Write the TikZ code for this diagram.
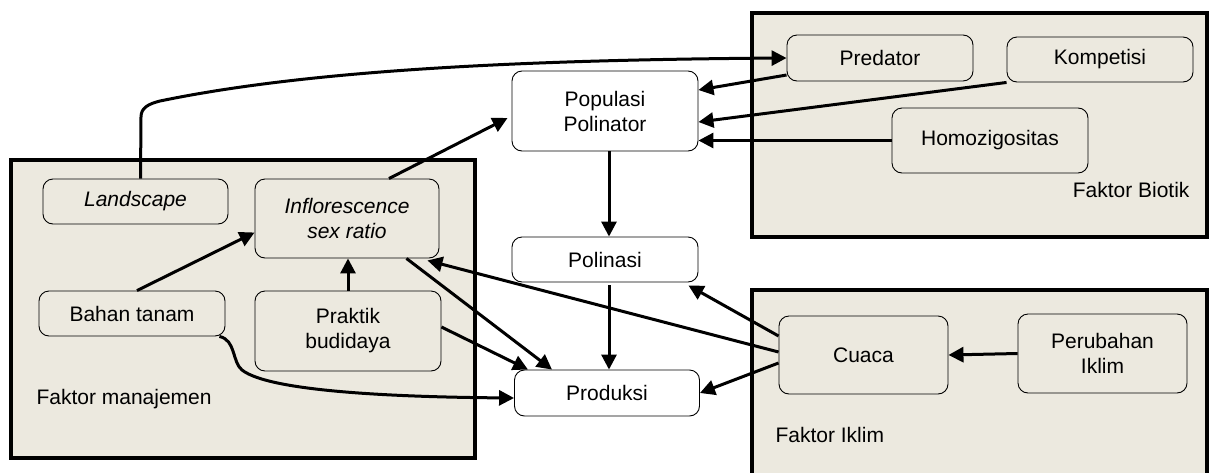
\documentclass[tikz,border=0pt]{standalone}
\usepackage{fontspec}
\setmainfont{Liberation Sans}
\usetikzlibrary{arrows.meta}
\definecolor{beige}{RGB}{236,233,223}

\begin{document}
\begin{tikzpicture}[x=1pt,y=-1pt,
    font=\fontsize{21}{25}\selectfont,
    panel/.style={draw,line width=4.5pt,fill=beige},
    box/.style={draw,line width=0.9pt,rounded corners=10pt,fill=beige,align=center,inner sep=0pt},
    wbox/.style={box,fill=white},
    arr/.style={line width=3pt,-{Triangle[length=15pt,width=15pt]}}]
        \clip (0,0) rectangle (1211,472);

        % groups
        \draw[panel] (11,160) rectangle (475,458);
        \draw[panel] (752,13) rectangle (1207,237);
        \draw[panel] (752,290) rectangle (1207,476);

        \node[anchor=west] (tman) at (33,399) {Faktor manajemen};
        \node[anchor=east] (tbio) at (1193,190) {Faktor Biotik};
        \node[anchor=west] (tikl) at (772,435) {Faktor Iklim};

        % faktor manajemen
        \node[box,minimum width=185pt,minimum height=45pt] (land) at (135.5,201.5) {\itshape Landscape};
        \node[box,minimum width=184pt,minimum height=79pt] (infl) at (347,218.5) {\itshape Inflorescence\\\itshape sex ratio};
        \node[box,minimum width=186pt,minimum height=45pt] (bahan) at (132,313.5) {Bahan tanam};
        \node[box,minimum width=186pt,minimum height=80pt] (prak) at (348,331) {Praktik\\budidaya};

        % tengah
        \node[wbox,minimum width=186pt,minimum height=80pt] (pop) at (605,111) {Populasi\\Polinator};
        \node[wbox,minimum width=186pt,minimum height=45pt] (pol) at (605,259.5) {Polinasi};
        \node[wbox,minimum width=185pt,minimum height=46pt] (prod) at (607,393) {Produksi};

        % faktor biotik
        \node[box,minimum width=186pt,minimum height=46pt] (pred) at (880,58) {Predator};
        \node[box,minimum width=186pt,minimum height=45pt] (komp) at (1100,59.5) {Kompetisi};
        \node[box,minimum width=196pt,minimum height=65pt] (homo) at (990,140.5) {Homozigositas};

        % faktor iklim
        \node[box,minimum width=169pt,minimum height=78pt] (cuaca) at (863.5,355) {Cuaca};
        \node[box,minimum width=169pt,minimum height=79pt] (perub) at (1102.5,353.5) {Perubahan\\Iklim};

        \draw[arr] ([xshift=5pt]land.north) -- (141,117) .. controls (141,108) and (148,104) .. (160,101) .. controls (300,72) and (500,60) .. (pred.west);
        \draw[arr] ([yshift=-17pt]pred.west) -- ([yshift=21pt]pop.east);
        \draw[arr] (komp.south west) -- ([yshift=-11pt]pop.east);
        \draw[arr] (homo.west) -- (homo.west -| pop.east);

        \draw[arr] ([xshift=42pt]infl.north) -- ([xshift=-4pt,yshift=-7pt]pop.west);
        \draw[arr] ([xshift=5pt]bahan.north) -- ([yshift=-14pt]infl.west);
        \draw[arr] (prak.north) -- (prak.north |- infl.south);
        \draw[arr] ([xshift=-33pt]infl.south east) -- ([xshift=-55pt]prod.north);
        \draw[arr] ([yshift=4pt]prak.east) -- ([xshift=-79pt]prod.north);
        \draw[arr] ([xshift=-6pt]bahan.south east) .. controls (236,340) and (232,362) .. (242,370) .. controls (270,392) and (400,397) .. ([yshift=-5pt]prod.west);

        \draw[arr] ([xshift=4pt]pop.south) -- ([xshift=4pt]pol.north);
        \draw[arr] ([xshift=4pt,yshift=-3pt]pol.south) -- ([xshift=4pt]pol.south |- prod.north);

        \draw[arr] ([yshift=3pt]cuaca.west) -- ([xshift=-12pt,yshift=-2pt]infl.south east);
        \draw[arr] ([yshift=19pt]cuaca.west) -- ([xshift=-10pt,yshift=-3pt]pol.south east);
        \draw[arr] ([yshift=-8pt]cuaca.west) -- (prod.east);
        \draw[arr] (perub.west) -- (cuaca.east);

    \end{tikzpicture}
\end{document}
